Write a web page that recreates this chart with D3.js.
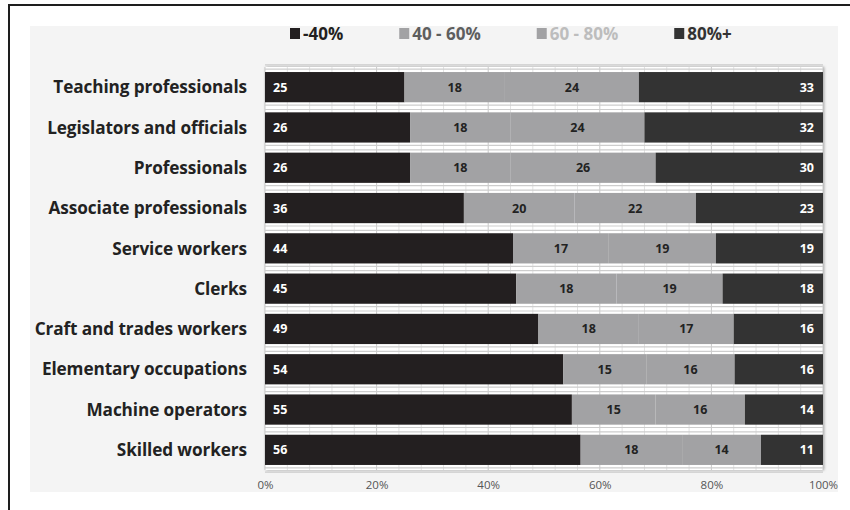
<!DOCTYPE html>
<html>
<head>
<meta charset="utf-8">
<script src="https://cdn.jsdelivr.net/npm/d3@7"></script>
<style>
  html, body { margin: 0; padding: 0; background: #ffffff; }
  svg { display: block; }
</style>
</head>
<body>
<svg id="chart" width="850" height="510"></svg>
<script>
// Occupational groups, top to bottom
const categories = [
  "Teaching professionals",
  "Legislators and officials",
  "Professionals",
  "Associate professionals",
  "Service workers",
  "Clerks",
  "Craft and trades workers",
  "Elementary occupations",
  "Machine operators",
  "Skilled workers"
];

// Share of each group in the four bands (percent)
const seriesKeys = ["-40%", "40 - 60%", "60 - 80%", "80%+"];
const under40 = [25, 26, 26, 36, 44, 45, 49, 54, 55, 56];
const from40to60 = [18, 18, 18, 20, 17, 18, 18, 15, 15, 18];
const from60to80 = [24, 24, 26, 22, 19, 19, 17, 16, 16, 14];
const over80 = [33, 32, 30, 23, 19, 18, 16, 16, 14, 11];

const tickValues = [0, 0.2, 0.4, 0.6, 0.8, 1.0];

const rows = categories.map((c, i) => ({
  category: c,
  "-40%": under40[i],
  "40 - 60%": from40to60[i],
  "60 - 80%": from60to80[i],
  "80%+": over80[i]
}));

const fills = ["#231f20", "#a2a2a4", "#a2a2a4", "#333333"];
const legendText = ["#231f20", "#5e5e5e", "#bdbdbd", "#333333"];
const labelFill = ["#ffffff", "#222222", "#222222", "#ffffff"];

const svg = d3.select("#chart");

// outer frame (left and top edges)
svg.append("path")
  .attr("d", "M9,510 V5 H850")
  .attr("fill", "none")
  .attr("stroke", "#1e1e1e")
  .attr("stroke-width", 2);

// light chart background
svg.append("rect")
  .attr("x", 30).attr("y", 26)
  .attr("width", 808).attr("height", 466)
  .attr("fill", "#f4f4f4");

// drop shadow for the plot panel
const defs = svg.append("defs");
const f = defs.append("filter").attr("id", "shadow")
  .attr("x", "-5%").attr("y", "-5%").attr("width", "110%").attr("height", "110%");
f.append("feDropShadow")
  .attr("dx", 1).attr("dy", 0)
  .attr("stdDeviation", 1.8)
  .attr("flood-color", "#7a7a7a")
  .attr("flood-opacity", 0.8);

const x = d3.scaleLinear().domain([0, 1]).range([265, 823]);
const y = d3.scaleBand().domain(categories).range([67, 470])
  .paddingInner(0.25).paddingOuter(0.125);

// plot panel
svg.append("rect")
  .attr("x", x(0)).attr("y", 67)
  .attr("width", x(1) - x(0)).attr("height", 403)
  .attr("fill", "#ffffff")
  .attr("filter", "url(#shadow)");

// vertical gridlines every 4%
const gridG = svg.append("g");
d3.range(0, 26).forEach(i => {
  const v = i * 0.04;
  gridG.append("line")
    .attr("x1", x(v)).attr("x2", x(v))
    .attr("y1", 67).attr("y2", 470)
    .attr("stroke", i % 5 === 0 ? "#c9c9c9" : "#e2e2e2")
    .attr("stroke-width", 1);
});

// horizontal separators between rows
const step = y.step();
const bw = y.bandwidth();
const seps = [y(categories[0]) - step * 0.25 / 2]
  .concat(categories.map(c => y(c) + bw + step * 0.25 / 2));
seps.forEach(s => {
  [-2.2, 2.2].forEach(o => {
    gridG.append("line")
      .attr("x1", x(0)).attr("x2", x(1))
      .attr("y1", s + o).attr("y2", s + o)
      .attr("stroke", "#cdcdcd")
      .attr("stroke-width", 1.2);
  });
});

// stacked, normalised to 100%
const stacked = d3.stack().keys(seriesKeys).offset(d3.stackOffsetExpand)(rows);

const layers = svg.append("g").selectAll("g")
  .data(stacked)
  .join("g")
  .attr("fill", (d, i) => fills[i]);

layers.selectAll("rect")
  .data(d => d)
  .join("rect")
  .attr("x", d => x(d[0]))
  .attr("y", d => y(d.data.category))
  .attr("width", d => x(d[1]) - x(d[0]))
  .attr("height", bw);

// value labels
const labelG = svg.append("g")
  .attr("font-family", "'Open Sans', 'Noto Sans', sans-serif")
  .attr("font-weight", "bold")
  .attr("font-size", 12.5);

stacked.forEach((layer, li) => {
  labelG.selectAll(null)
    .data(layer)
    .join("text")
    .attr("x", d => li === 0 ? x(d[0]) + 8 : li === 3 ? x(d[1]) - 9 : (x(d[0]) + x(d[1])) / 2)
    .attr("y", d => y(d.data.category) + bw / 2)
    .attr("dy", "0.36em")
    .attr("text-anchor", li === 0 ? "start" : li === 3 ? "end" : "middle")
    .attr("fill", labelFill[li])
    .text(d => d.data[layer.key]);
});

// category labels
svg.append("g")
  .selectAll("text")
  .data(categories)
  .join("text")
  .attr("x", 247)
  .attr("y", d => y(d) + bw / 2)
  .attr("dy", "0.36em")
  .attr("text-anchor", "end")
  .attr("font-family", "'Open Sans', 'Noto Sans', sans-serif")
  .attr("font-weight", "bold")
  .attr("font-size", 17.2)
  .attr("letter-spacing", -0.1)
  .attr("fill", "#222222")
  .text(d => d);

// x axis labels
const axis = d3.axisBottom(x).tickValues(tickValues)
  .tickFormat(d3.format(".0%")).tickSize(0).tickPadding(0);
const axisG = svg.append("g")
  .attr("transform", "translate(0,481)")
  .call(axis);
axisG.select(".domain").remove();
axisG.selectAll("text")
  .attr("font-family", "'Open Sans', 'Noto Sans', sans-serif")
  .attr("font-size", 11.5)
  .attr("fill", "#555555");

// legend
const legend = svg.append("g")
  .attr("font-family", "'Open Sans', 'Noto Sans', sans-serif")
  .attr("font-weight", "bold")
  .attr("font-size", 17);
let lx = 290;
seriesKeys.forEach((k, i) => {
  legend.append("rect")
    .attr("x", lx).attr("y", 28)
    .attr("width", 10).attr("height", 11)
    .attr("fill", fills[i]);
  const t = legend.append("text")
    .attr("x", lx + 13).attr("y", 40)
    .attr("fill", legendText[i])
    .text(k);
  const w = t.node().getComputedTextLength();
  lx = lx + 13 + w + 56;
});
</script>
</body>
</html>
